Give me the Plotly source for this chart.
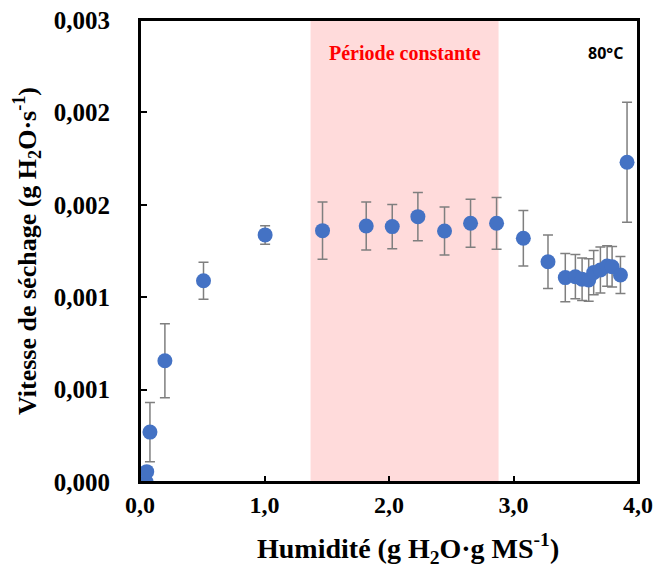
import plotly.graph_objects as go

# Data
humidite = [0.05, 0.054, 0.08, 0.20, 0.51, 1.005, 1.466, 1.817, 2.026, 2.232, 2.446,
            2.655, 2.864, 3.079, 3.277, 3.416, 3.497, 3.551, 3.604, 3.644, 3.698,
            3.752, 3.792, 3.859, 3.912]
vitesse = [0.0, 0.000056, 0.00027, 0.000656, 0.001089, 0.001337, 0.00136, 0.001385,
           0.001382, 0.001436, 0.001358, 0.0014, 0.0014, 0.001319, 0.001192, 0.001106,
           0.001111, 0.001097, 0.001093, 0.001133, 0.001147, 0.001169, 0.001165,
           0.00112, 0.00173]
erreur = [0.0, 0.0, 0.00016, 0.0002, 0.0001, 0.00005, 0.000155, 0.00013, 0.00012,
          0.00013, 0.00013, 0.00013, 0.00014, 0.00015, 0.000145, 0.00013, 0.00012,
          0.000115, 0.000115, 0.00012, 0.000124, 0.00011, 0.00011, 0.0001, 0.000325]

periode_debut = 1.37
periode_fin = 2.88

x_tickvals = [0, 1, 2, 3, 4]
x_ticktext = ["0,0", "1,0", "2,0", "3,0", "4,0"]
y_tickvals = [0, 0.0005, 0.001, 0.0015, 0.002, 0.0025]
y_ticktext = ["0,000", "0,001", "0,001", "0,002", "0,002", "0,003"]

serif = "Liberation Serif, Times New Roman, serif"

fig = go.Figure()
fig.add_trace(go.Scatter(
    x=humidite, y=vitesse, mode="markers",
    marker=dict(color="#4472C4", size=15),
    error_y=dict(type="data", array=erreur, visible=True, color="#7F7F7F",
                 thickness=1.5, width=5),
    showlegend=False, hoverinfo="skip",
))

fig.add_shape(type="rect", xref="x", yref="paper", x0=periode_debut, x1=periode_fin,
              y0=0, y1=1, fillcolor="#FFDBDB", line=dict(width=0), layer="below")
# plot frame
fig.add_shape(type="rect", xref="paper", yref="paper", x0=0, x1=1, y0=0, y1=1,
              fillcolor="rgba(0,0,0,0)", line=dict(color="black", width=2), layer="above")

fig.add_annotation(x=(periode_debut + periode_fin) / 2, y=0.00232, xref="x", yref="y",
                   text="<b>Période constante</b>", showarrow=False,
                   font=dict(family=serif, size=20, color="#FF0000"))
fig.add_annotation(x=3.74, y=0.00232, xref="x", yref="y", text="<b>80°C</b>",
                   showarrow=False, font=dict(family="Open Sans, sans-serif", size=16, color="black"))
# x-axis title, placed as in the reference (slightly right of centre)
fig.add_annotation(x=0.538, y=-0.143, xref="paper", yref="paper", xanchor="center",
                   yanchor="middle", showarrow=False,
                   text="<b>Humidité (g H<sub>2</sub>O·g MS<sup>-1</sup>)</b>",
                   font=dict(family=serif, size=28, color="black"))

fig.update_layout(
    width=659, height=571,
    margin=dict(l=140, r=21, t=20, b=89),
    paper_bgcolor="white", plot_bgcolor="white",
    font=dict(family=serif, color="black"),
)
fig.update_xaxes(
    range=[0, 4], tickvals=x_tickvals, ticktext=x_ticktext, automargin=False,
    showline=True, linecolor="black", linewidth=2, mirror=True,
    ticks="inside", ticklen=6, tickcolor="black", tickwidth=1.5,
    showgrid=False, zeroline=False, ticklabeloverflow="allow",
    tickfont=dict(family=serif, size=24, color="black", weight="bold"),
)
fig.update_yaxes(
    range=[0, 0.0025], tickvals=y_tickvals, ticktext=y_ticktext, automargin=False,
    showline=True, linecolor="black", linewidth=2, mirror=True,
    ticks="inside", ticklen=7, tickcolor="black", tickwidth=1.5,
    showgrid=False, zeroline=False, ticklabeloverflow="allow",
    tickfont=dict(family=serif, size=25, color="black", weight="bold"),
    ticklabelstandoff=23,
    title=dict(text="Vitesse de séchage (g H<sub>2</sub>O·s<sup>-1</sup>)",
               font=dict(family=serif, size=26, color="black", weight="bold"), standoff=10),
)

fig.write_html("out.html", config={"displayModeBar": False},
               post_script="document.body.style.margin='0';")
